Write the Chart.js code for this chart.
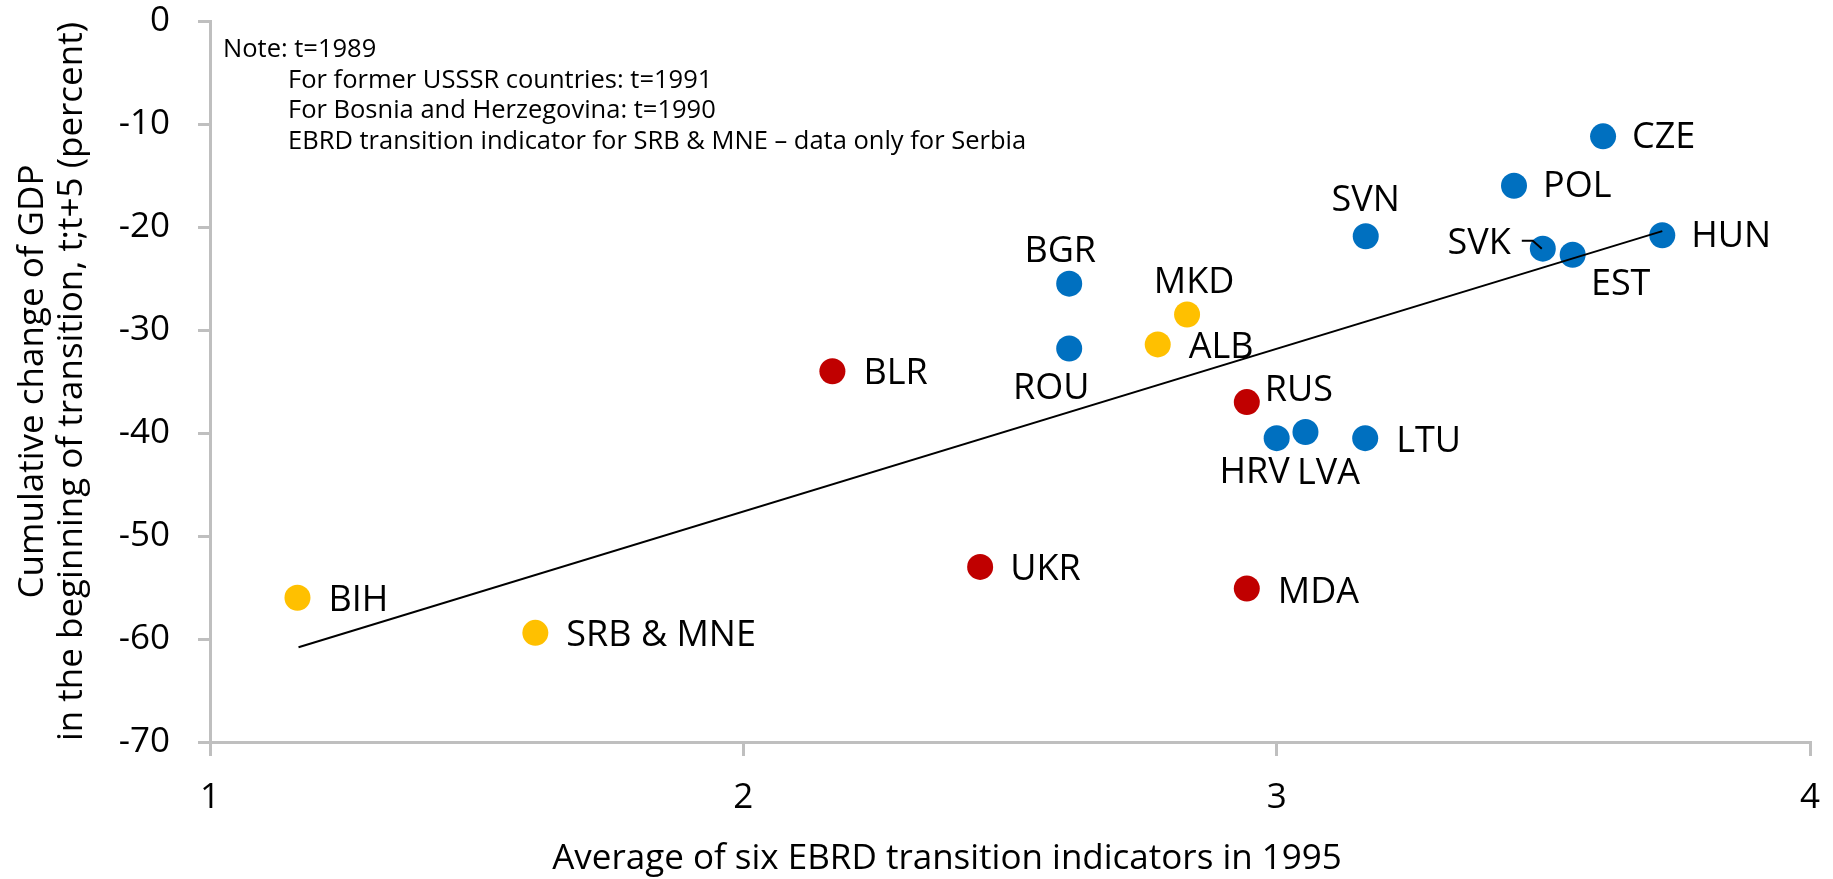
<!DOCTYPE html>
<html><head><meta charset="utf-8">
<script src="https://cdn.jsdelivr.net/npm/chart.js@4"></script>
<style>html,body{margin:0;padding:0;background:#fff;overflow:hidden}canvas{display:block}</style>
</head><body>
<canvas id="c" width="1833" height="879" style="width:1833px;height:879px"></canvas>
<script>
// ---- data ----
const blueNames = ['CZE','POL','SVN','HUN','SVK','EST','BGR','ROU','HRV','LVA','LTU'];
const blueX = [3.612, 3.445, 3.167, 3.723, 3.499, 3.555, 2.611, 2.611, 3.000, 3.054, 3.166];
const blueY = [-11.2, -16.0, -20.9, -20.8, -22.1, -22.7, -25.5, -31.8, -40.5, -39.9, -40.5];

const redNames = ['BLR','RUS','UKR','MDA'];
const redX = [2.167, 2.944, 2.444, 2.944];
const redY = [-34.0, -37.0, -53.0, -55.1];

const yellowNames = ['MKD','ALB','BIH','SRB & MNE'];
const yellowX = [2.832, 2.777, 1.164, 1.610];
const yellowY = [-28.5, -31.4, -56.0, -59.4];

const trendX = [1.166, 3.723];
const trendY = [-60.8, -20.4];

const xTickValues = [1, 2, 3, 4];
const yTickValues = [-70, -60, -50, -40, -30, -20, -10, 0];

const xTitle = 'Average of six EBRD transition indicators in 1995';
const yTitle = ['Cumulative change of GDP', 'in the beginning of transition, t;t+5 (percent)'];
const noteLines = [
  'Note: t=1989',
  'For former USSSR countries: t=1991',
  'For Bosnia and Herzegovina: t=1990',
  'EBRD transition indicator for SRB & MNE \u2013 data only for Serbia'
];

// ---- styles ----
const FONT = "'Open Sans', 'Noto Sans', sans-serif";
const labelPlace = {
  'CZE': {dx: 29, dy: 1, align: 'left'},
  'POL': {dx: 29, dy: 1, align: 'left'},
  'SVN': {dx: 0, dy: -36, align: 'center'},
  'HUN': {dx: 29, dy: 2, align: 'left'},
  'SVK': {dx: -32, dy: -5, align: 'right'},
  'EST': {dx: 48, dy: 30, align: 'center'},
  'BGR': {dx: -9, dy: -32, align: 'center'},
  'ROU': {dx: -18, dy: 40, align: 'center'},
  'HRV': {dx: -22, dy: 35, align: 'center'},
  'LVA': {dx: 23, dy: 42, align: 'center'},
  'LTU': {dx: 31, dy: 4, align: 'left'},
  'BLR': {dx: 31, dy: 3, align: 'left'},
  'RUS': {dx: 18, dy: -11, align: 'left'},
  'UKR': {dx: 30, dy: 3, align: 'left'},
  'MDA': {dx: 31, dy: 4, align: 'left'},
  'MKD': {dx: 7, dy: -32, align: 'center'},
  'ALB': {dx: 31, dy: 3, align: 'left'},
  'BIH': {dx: 31, dy: 3, align: 'left'},
  'SRB & MNE': {dx: 31, dy: 3, align: 'left'}
};

function pts(xs, ys) { return xs.map((x, i) => ({x: x, y: ys[i]})); }

const labelPlugin = {
  id: 'labels',
  afterDatasetsDraw(chart) {
    const ctx = chart.ctx;
    ctx.save();
    ctx.fillStyle = '#000';
    ctx.font = '36px ' + FONT;
    ctx.textBaseline = 'middle';
    chart.data.datasets.forEach((ds, di) => {
      if (!ds.names) return;
      const meta = chart.getDatasetMeta(di);
      meta.data.forEach((el, i) => {
        const name = ds.names[i];
        const p = labelPlace[name];
        ctx.textAlign = p.align;
        ctx.fillText(name, el.x + p.dx, el.y + p.dy);
        if (name === 'SVK') {
          ctx.strokeStyle = '#000';
          ctx.lineWidth = 2;
          ctx.beginPath();
          ctx.moveTo(el.x - 21, el.y - 8);
          ctx.lineTo(el.x - 10, el.y - 8);
          ctx.lineTo(el.x - 1, el.y);
          ctx.stroke();
        }
      });
    });
    // x-axis title
    ctx.font = '35px ' + FONT;
    ctx.textAlign = 'center';
    ctx.fillText(xTitle, 947, 859);
    // note
    ctx.font = '25.5px ' + FONT;
    ctx.textAlign = 'left';
    const a = chart.chartArea;
    noteLines.forEach((t, i) => {
      ctx.fillText(t, a.left + (i === 0 ? 13 : 78), a.top + 29 + i * 30.5);
    });
    ctx.restore();
  }
};

new Chart(document.getElementById('c'), {
  type: 'scatter',
  data: {
    datasets: [
      {type: 'line', data: pts(trendX, trendY), borderColor: '#000', borderWidth: 2,
       pointRadius: 0, fill: false, order: 0, tension: 0},
      {names: blueNames, data: pts(blueX, blueY), backgroundColor: '#0070C0', borderWidth: 0, pointRadius: 13, order: 1},
      {names: redNames, data: pts(redX, redY), backgroundColor: '#C00000', borderWidth: 0, pointRadius: 13, order: 1},
      {names: yellowNames, data: pts(yellowX, yellowY), backgroundColor: '#FFC000', borderWidth: 0, pointRadius: 13, order: 1}
    ]
  },
  options: {
    responsive: false,
    animation: false,
    devicePixelRatio: 1,
    layout: {padding: {top: 21, right: 23, left: 0, bottom: 0}},
    plugins: {legend: {display: false}, tooltip: {enabled: false}},
    scales: {
      x: {
        type: 'linear', min: 1, max: 4,
        afterBuildTicks: s => { s.ticks = xTickValues.map(v => ({value: v})); },
        afterFit: s => { s.height = 137; s.paddingLeft = 0; s.paddingRight = 0; s.paddingTop = 0; s.paddingBottom = 0; },
        ticks: {color: '#000', font: {family: FONT, size: 35}, padding: 21},
        grid: {drawOnChartArea: false, drawTicks: true, tickLength: 14, color: '#BFBFBF', lineWidth: 3},
        border: {display: true, color: '#BFBFBF', width: 3},
        title: {display: false}
      },
      y: {
        type: 'linear', min: -70, max: 0,
        afterBuildTicks: s => { s.ticks = yTickValues.map(v => ({value: v})); },
        afterFit: s => { s.width = 210; s.paddingTop = 0; s.paddingBottom = 0; s.paddingLeft = 0; s.paddingRight = 0; },
        ticks: {color: '#000', font: {family: FONT, size: 35}, padding: 28},
        grid: {drawOnChartArea: false, drawTicks: true, tickLength: 12, color: '#BFBFBF', lineWidth: 3},
        border: {display: true, color: '#BFBFBF', width: 3},
        title: {display: true, text: yTitle, color: '#000', font: {family: FONT, size: 35, lineHeight: 1.12}, padding: {top: 13, bottom: 0}}
      }
    }
  },
  plugins: [labelPlugin]
});
</script>
</body></html>
